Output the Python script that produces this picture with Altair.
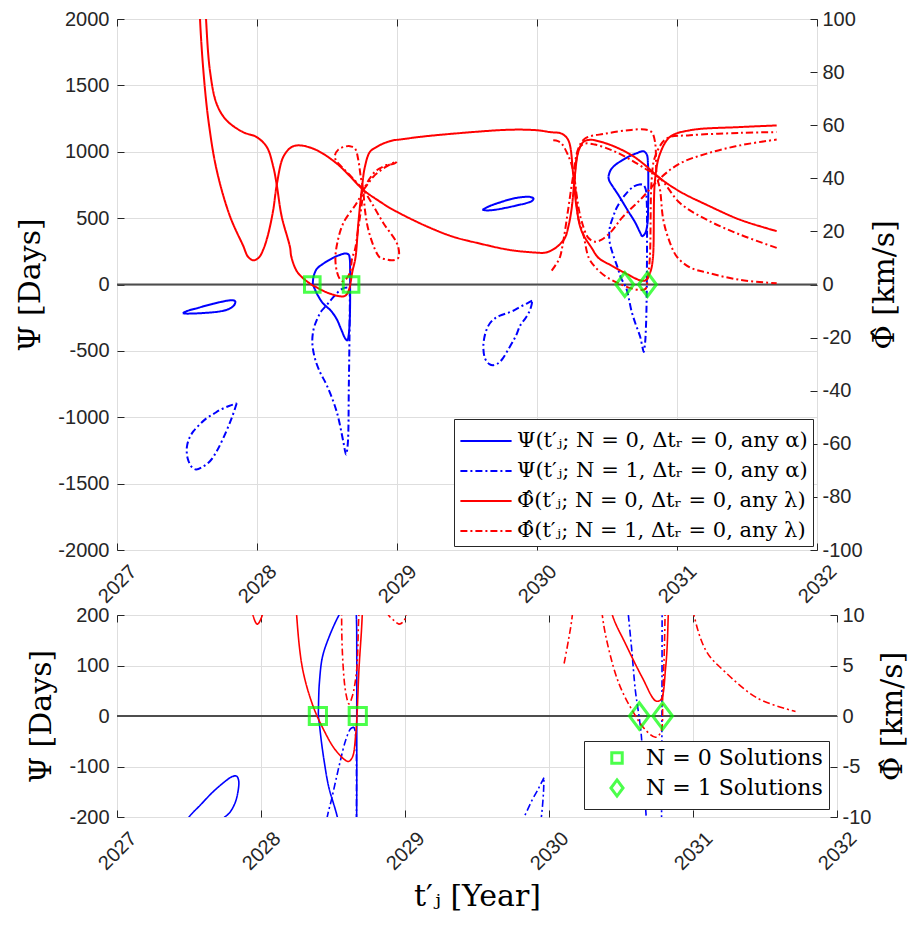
import altair as alt
import pandas as pd

# ---------------- axes / labels ----------------
YEARS = [2027, 2028, 2029, 2030, 2031, 2032]
PSI_TICKS_TOP = [-2000, -1500, -1000, -500, 0, 500, 1000, 1500, 2000]
PHI_TICKS_TOP = [-100, -80, -60, -40, -20, 0, 20, 40, 60, 80, 100]
PSI_TICKS_BOT = [-200, -100, 0, 100, 200]
PHI_TICKS_BOT = [-10, -5, 0, 5, 10]

SERIES = [
    "Ψ(t′ⱼ; N = 0, Δtᵣ = 0, any α)",
    "Ψ(t′ⱼ; N = 1, Δtᵣ = 0, any α)",
    "Φ̂(t′ⱼ; N = 0, Δtᵣ = 0, any λ)",
    "Φ̂(t′ⱼ; N = 1, Δtᵣ = 0, any λ)",
]
SOL_LABELS = ["N = 0 Solutions", "N = 1 Solutions"]

# ---------------- Ψ, N = 0 (days) ----------------
psi0_a_t = [2027.47, 2027.50, 2027.58, 2027.66, 2027.74, 2027.80, 2027.83, 2027.845, 2027.84, 2027.82,
            2027.78, 2027.72, 2027.64, 2027.56, 2027.49, 2027.47]
psi0_a_v = [-216, -200, -176, -152, -132, -120, -119, -128, -150, -172, -192, -205, -213, -218, -219, -216]

psi0_b_t = [2028.398, 2028.401, 2028.405, 2028.426, 2028.472, 2028.542, 2028.60, 2028.635, 2028.655, 2028.663,
            2028.665, 2028.665, 2028.665, 2028.662, 2028.655, 2028.645, 2028.632, 2028.60, 2028.57, 2028.53,
            2028.47, 2028.44, 2028.42, 2028.405, 2028.398]
psi0_b_v = [0, 40, 64, 116, 156, 200, 226, 234, 225, 190, 120, 0, -150, -280, -380, -421, -410, -335, -262, -200,
            -140, -92, -52, -15, 0]

psi0_c_t = [2029.61, 2029.66, 2029.74, 2029.82, 2029.89, 2029.95, 2029.975, 2029.965, 2029.93, 2029.86,
            2029.78, 2029.70, 2029.64, 2029.61]
psi0_c_v = [563, 590, 620, 645, 658, 660, 648, 630, 615, 597, 578, 563, 558, 563]

psi0_d_t = [2030.51, 2030.525, 2030.557, 2030.60, 2030.652, 2030.71, 2030.76, 2030.784, 2030.793, 2030.795,
            2030.794, 2030.788, 2030.772, 2030.752, 2030.735, 2030.70, 2030.652, 2030.581, 2030.54, 2030.515, 2030.51]
psi0_d_v = [813, 860, 899, 930, 962, 988, 1004, 980, 900, 760, 600, 450, 385, 364, 395, 470, 551, 675, 740, 785, 813]

# ---------------- Ψ, N = 1 (days) ----------------
psi1_a_t = [2027.855, 2027.819, 2027.759, 2027.71, 2027.664, 2027.61, 2027.564, 2027.53, 2027.505, 2027.498,
            2027.502, 2027.52, 2027.545, 2027.59, 2027.64, 2027.69, 2027.736, 2027.80, 2027.855]
psi1_a_v = [-895, -1007, -1157, -1260, -1331, -1375, -1393, -1370, -1310, -1256, -1206, -1150, -1107, -1055,
            -1007, -975, -945, -915, -895]

psi1_b_t = [2028.645, 2028.623, 2028.588, 2028.55, 2028.519, 2028.49, 2028.46, 2028.43, 2028.405, 2028.395,
            2028.414, 2028.45, 2028.498, 2028.569, 2028.616, 2028.636, 2028.648, 2028.656, 2028.662, 2028.663,
            2028.66, 2028.652, 2028.645]
psi1_b_v = [-22, -25, -48, -90, -128, -165, -200, -260, -334, -434, -558, -660, -758, -957, -1181, -1281,
            -1206, -758, -259, -120, -50, -28, -22]

psi1_c_t = [2029.965, 2029.93, 2029.88, 2029.826, 2029.78, 2029.736, 2029.70, 2029.665, 2029.64, 2029.622,
            2029.617, 2029.63, 2029.66, 2029.688, 2029.72, 2029.75, 2029.80, 2029.85, 2029.88, 2029.92,
            2029.947, 2029.962, 2029.965]
psi1_c_v = [-122, -142, -168, -200, -218, -234, -255, -290, -340, -410, -484, -560, -600, -608, -595, -565,
            -480, -385, -309, -250, -200, -150, -122]

psi1_d_t = [2030.74, 2030.69, 2030.62, 2030.57, 2030.545, 2030.522, 2030.516, 2030.52, 2030.545, 2030.575,
            2030.60, 2030.625, 2030.64, 2030.655, 2030.675, 2030.705, 2030.736, 2030.755, 2030.762, 2030.772,
            2030.779, 2030.783, 2030.785, 2030.786, 2030.784, 2030.776, 2030.76, 2030.74]
psi1_d_v = [755, 738, 663, 580, 514, 440, 389, 314, 220, 130, 50, 0, -35, -100, -200, -300, -390, -480, -508,
            -440, -300, -120, 100, 400, 620, 720, 750, 755]

# ---------------- Φ̂, N = 0 (km/s) ----------------
phi0_a_t = [2027.588, 2027.593, 2027.617, 2027.653, 2027.712, 2027.807, 2027.902, 2027.935, 2027.974, 2028.014,
            2028.045, 2028.08, 2028.116, 2028.141, 2028.188, 2028.248, 2028.307, 2028.426, 2028.569, 2028.66,
            2028.76, 2028.87, 2028.974, 2029.212, 2029.40, 2029.569, 2029.807, 2030.0, 2030.06, 2030.116,
            2030.16, 2030.20, 2030.225, 2030.248, 2030.271, 2030.295, 2030.331, 2030.38, 2030.414, 2030.533,
            2030.676, 2030.771, 2030.879, 2031.021, 2031.212, 2031.45, 2031.712]
phi0_a_v = [110, 100, 80.5, 61.8, 43.1, 25.7, 14.5, 10.5, 9.1, 10.2, 13.2, 19, 28.1, 37.5, 48.1, 51.8, 52.4,
            50.6, 45.6, 41, 35.6, 31.5, 28.1, 21.9, 18, 15.7, 13.0, 12, 12, 13.2, 15, 17.6, 22, 28.8, 41.2, 50,
            53.7, 54.5, 54.3, 52.4, 48.7, 45, 40, 35, 30, 24.4, 20.1]

phi0_b_t = [2027.628, 2027.636, 2027.664, 2027.712, 2027.783, 2027.90, 2027.995, 2028.07, 2028.116, 2028.141,
            2028.176, 2028.236, 2028.245, 2028.287, 2028.356, 2028.426, 2028.519, 2028.606, 2028.634, 2028.658,
            2028.681, 2028.703, 2028.724, 2028.748, 2028.771, 2028.807, 2028.855, 2028.902, 2028.974, 2029.021,
            2029.164, 2029.40, 2029.807, 2030.0, 2030.093, 2030.176, 2030.224, 2030.259, 2030.283, 2030.319,
            2030.39, 2030.44, 2030.533, 2030.648, 2030.741, 2030.776, 2030.81, 2030.828, 2030.843, 2030.879,
            2030.95, 2031.093, 2031.45, 2031.712]
phi0_b_v = [110, 100, 80.5, 68, 61.8, 57.4, 55.6, 51.8, 44.4, 37.5, 25.7, 14, 10.5, 4.8, 1.2, -1.1, -3.4, -4.5,
            -4.1, -1.8, 4.8, 10, 23.2, 35.6, 44.4, 50, 51.8, 53.1, 54.3, 54.6, 55.6, 56.8, 58.3, 58.1, 57.4, 56.8,
            54.3, 41.2, 28.8, 20.1, 13.8, 10, 7.1, 3.8, 1.5, 1.6, 4.8, 10, 39.4, 49.3, 55.6, 58.1, 59.3, 59.9]

# ---------------- Φ̂, N = 1 (km/s) ----------------
phi1_a_t = [2028.76, 2028.741, 2028.724, 2028.70, 2028.664, 2028.62, 2028.581, 2028.557, 2028.565, 2028.581,
            2028.62, 2028.664, 2028.71, 2028.76, 2028.819, 2028.902, 2028.998, 2029.015, 2029.009, 2028.986,
            2028.958, 2028.92, 2028.877, 2028.843, 2028.795, 2028.771, 2028.76]
phi1_a_v = [35.6, 40.6, 46.8, 51.2, 52.1, 51.8, 50.8, 48.7, 46.5, 45.6, 43.5, 41.2, 38.5, 35.6, 30.7, 23.2,
            15.7, 12, 10, 9.3, 9.1, 9.5, 10.2, 13.2, 20.7, 28.1, 35.6]

phi1_b_t = [2028.76, 2028.80, 2028.831, 2028.902, 2028.96, 2028.998, 2028.98, 2028.926, 2028.88, 2028.843,
            2028.80, 2028.76, 2028.712, 2028.617, 2028.575, 2028.56, 2028.57, 2028.59, 2028.611, 2028.635,
            2028.664, 2028.68, 2028.70, 2028.72, 2028.736, 2028.75, 2028.76]
phi1_b_v = [35.6, 38.5, 40.6, 43.7, 45.5, 46.3, 45.5, 45, 43.8, 42.5, 39.5, 35.6, 30.7, 23.2, 16, 10, 5, 2.2,
            1.2, 2, 4.5, 10, 13.2, 20, 25.7, 31, 35.6]

phi1_c_t = [2030.116, 2030.15, 2030.176, 2030.215, 2030.248, 2030.27, 2030.283, 2030.30, 2030.319, 2030.366,
            2030.414, 2030.462, 2030.533, 2030.605, 2030.748, 2030.879, 2031.021, 2031.212, 2031.45, 2031.712]
phi1_c_v = [54.3, 54, 53.1, 49.5, 45, 39, 33.8, 28, 23.8, 17.6, 16.1, 16.9, 20.1, 25, 32.5, 40, 45.6, 49.3,
            52.4, 54.6]

phi1_d_t = [2030.105, 2030.135, 2030.162, 2030.19, 2030.224, 2030.259, 2030.295, 2030.343, 2030.486, 2030.652,
            2030.771, 2030.819, 2030.843, 2030.855, 2030.879, 2030.902, 2030.95, 2031.0, 2031.093, 2031.22,
            2031.45, 2031.712]
phi1_d_v = [5.2, 7.5, 10, 17, 28.8, 41.2, 51.2, 55, 56.8, 58.1, 58.4, 57.4, 53.7, 41.2, 35.6, 24.4, 15.7, 10.4,
            6.4, 4.4, 1.75, 0.45]

phi1_e_t = [2031.712, 2031.45, 2031.212, 2031.021, 2030.879, 2030.771, 2030.652, 2030.533, 2030.414, 2030.343,
            2030.307, 2030.283, 2030.271, 2030.283, 2030.295, 2030.331, 2030.37, 2030.417, 2030.486, 2030.578,
            2030.671, 2030.741, 2030.776, 2030.79, 2030.806, 2030.819, 2030.843, 2030.926, 2031.093, 2031.45,
            2031.712]
phi1_e_v = [13.8, 18.8, 24.4, 30.7, 40, 43.7, 47.5, 50.6, 52.7, 53.1, 51.8, 47.5, 41.2, 31, 25, 18.8, 10,
            6.5, 3.2, 0.55, -1.4, -2.1, -1.6, 2, 10, 39.4, 48.1, 55, 56.2, 57.1, 57.4]

# ---------------- solutions ----------------
sol_t = [2028.395, 2028.672, 2030.627, 2030.789]
sol_v = [0, 0, 0, 0]
sol_n = [SOL_LABELS[0], SOL_LABELS[0], SOL_LABELS[1], SOL_LABELS[1]]

zero_t = [2027, 2032]
zero_v = [0, 0]


def rows(series, segs):
    out = []
    for k, (tt, vv) in enumerate(segs):
        for i, (a, b) in enumerate(zip(tt, vv)):
            out.append({"series": series, "seg": f"{series}|{k}", "i": i, "t": a, "v": b})
    return out


psi_df = pd.DataFrame(
    rows(SERIES[0], [(psi0_a_t, psi0_a_v), (psi0_b_t, psi0_b_v), (psi0_c_t, psi0_c_v), (psi0_d_t, psi0_d_v)])
    + rows(SERIES[1], [(psi1_a_t, psi1_a_v), (psi1_b_t, psi1_b_v), (psi1_c_t, psi1_c_v), (psi1_d_t, psi1_d_v)])
)
phi_df = pd.DataFrame(
    rows(SERIES[2], [(phi0_a_t, phi0_a_v), (phi0_b_t, phi0_b_v)])
    + rows(SERIES[3], [(phi1_a_t, phi1_a_v), (phi1_b_t, phi1_b_v), (phi1_c_t, phi1_c_v),
                       (phi1_d_t, phi1_d_v), (phi1_e_t, phi1_e_v)])
)
sol_df = pd.DataFrame({"t": sol_t, "v": sol_v, "sol": sol_n})
zero_df = pd.DataFrame({"t": zero_t, "v": zero_v})

SANS = "Liberation Sans"
SERIF = "DejaVu Serif"
INK = "#262626"
SQUARE = "M-0.65,-0.65L0.65,-0.65L0.65,0.65L-0.65,0.65Z"
DIAMOND = "M0,-1L0.75,0L0,1L-0.75,0Z"
LINE_SYM = "M-1.6,0L1.6,0"
NUM = "'' + datum.value"


def panel(psi_dom, phi_dom, psi_ticks, phi_ticks, w, h, lw, msize, line_legend, sol_legend, xtitle):
    xs = alt.Scale(domain=[2027, 2032], nice=False, zero=False)
    psi_s = alt.Scale(domain=psi_dom, nice=False, zero=False)
    phi_s = alt.Scale(domain=phi_dom, nice=False, zero=False)
    cscale = alt.Scale(domain=SERIES, range=["#0000ff", "#0000ff", "#ff0000", "#ff0000"])
    dscale = alt.Scale(domain=SERIES, range=[[1, 0], [7, 3, 2, 3], [1, 0], [7, 3, 2, 3]])
    if line_legend:
        leg = alt.Legend(title=None, orient="bottom-right", offset=4, symbolType=LINE_SYM, symbolSize=1024,
                         symbolStrokeWidth=2, symbolOffset=10, labelFont=SERIF, labelFontSize=21,
                         labelLimit=600, labelColor="black", padding=5, fillColor="white", strokeColor=INK,
                         rowPadding=3, labelOffset=14)
    else:
        leg = None

    ax_x_lab = alt.Axis(orient="bottom", values=YEARS, format="d", labelAngle=-45, labelAlign="right",
                        labelBaseline="top", labelOffset=9, labelPadding=11, ticks=False, domain=False,
                        grid=True, labelOverlap=False, labelFlush=False,
                        title=xtitle, titleFont=SERIF, titleFontSize=30, titleFontWeight="normal",
                        titlePadding=8)
    ax_x_top = alt.Axis(orient="top", values=YEARS, labels=False, ticks=True, tickSize=7, offset=-7,
                        domain=False, grid=False, title=None)
    ax_x_bot = alt.Axis(orient="bottom", values=YEARS, labels=False, ticks=True, tickSize=7, offset=-7,
                        domain=False, grid=False, title=None)
    ax_psi = alt.Axis(orient="left", values=psi_ticks, labelExpr=NUM, ticks=False, domain=False, grid=True,
                      labelPadding=8, title="Ψ [Days]", titleFont=SERIF, titleFontSize=30,
                      titleFontWeight="normal", titlePadding=12)
    ax_psi_t = alt.Axis(orient="left", values=psi_ticks, labels=False, ticks=True, tickSize=7, offset=-7,
                        domain=False, grid=False, title=None)
    ax_phi = alt.Axis(orient="right", values=phi_ticks, labelExpr=NUM, ticks=False, domain=False, grid=False,
                      labelPadding=5, title="Φ̂ [km/s]", titleFont=SERIF, titleFontSize=30,
                      titleFontWeight="normal", titleAngle=270, titleBaseline="top", titlePadding=7)
    ax_phi_t = alt.Axis(orient="right", values=phi_ticks, labels=False, ticks=True, tickSize=7, offset=-7,
                        domain=False, grid=False, title=None)

    blue = alt.Chart(psi_df).mark_line(clip=True, strokeWidth=lw, interpolate="catmull-rom").encode(
        x=alt.X("t:Q", scale=xs, axis=ax_x_lab),
        y=alt.Y("v:Q", scale=psi_s, axis=ax_psi),
        color=alt.Color("series:N", scale=cscale, legend=leg),
        strokeDash=alt.StrokeDash("series:N", scale=dscale, legend=leg),
        detail="seg:N",
        order="i:Q",
    )
    red = alt.Chart(phi_df).mark_line(clip=True, strokeWidth=lw, interpolate="catmull-rom").encode(
        x=alt.X("t:Q", scale=xs, axis=ax_x_top),
        y=alt.Y("v:Q", scale=phi_s, axis=ax_phi),
        color=alt.Color("series:N", scale=cscale, legend=leg),
        strokeDash=alt.StrokeDash("series:N", scale=dscale, legend=leg),
        detail="seg:N",
        order="i:Q",
    )
    zero = alt.Chart(zero_df).mark_line(clip=True, color="#4d4d4d", strokeWidth=2).encode(
        x=alt.X("t:Q", scale=xs, axis=ax_x_bot),
        y=alt.Y("v:Q", scale=psi_s, axis=ax_psi_t),
    )
    if sol_legend:
        sleg = alt.Legend(title=None, orient="bottom-right", offset=8, symbolStrokeColor="#00ff00",
                          symbolStrokeWidth=3, symbolSize=260, symbolFillColor="transparent",
                          symbolOffset=16, labelFont=SERIF, labelFontSize=22, labelLimit=400,
                          labelColor="black", padding=6, fillColor="white", strokeColor=INK,
                          rowPadding=3, labelOffset=18)
    else:
        sleg = None
    marks = alt.Chart(sol_df).mark_point(filled=False, stroke="#00ff00", strokeWidth=3, size=msize,
                                         clip=True).encode(
        x=alt.X("t:Q", scale=xs, axis=None),
        y=alt.Y("v:Q", scale=phi_s, axis=ax_phi_t),
        shape=alt.Shape("sol:N", scale=alt.Scale(domain=SOL_LABELS, range=[SQUARE, DIAMOND]), legend=sleg),
    )
    return (
        alt.layer(zero, blue, red, marks)
        .resolve_scale(y="independent")
        .resolve_axis(x="independent", y="independent")
        .properties(width=w, height=h)
    )


top = panel([-2000, 2000], [-100, 100], PSI_TICKS_TOP, PHI_TICKS_TOP, 700, 531, 2.0, 576, True, False, None)
bottom = panel([-200, 200], [-10, 10], PSI_TICKS_BOT, PHI_TICKS_BOT, 720, 202, 1.6, 700, False, True,
               "t′ⱼ [Year]")

chart = (
    alt.vconcat(top, bottom, spacing=-4)
    .resolve_scale(color="independent", strokeDash="independent", shape="independent")
    .resolve_legend(color="independent", strokeDash="independent", shape="independent")
    .properties(padding={"left": 7, "top": 0, "right": 0, "bottom": 0}, background="white")
    .configure_view(stroke=INK, strokeWidth=1)
    .configure_axis(labelFont=SANS, labelFontSize=20, labelColor=INK, tickColor=INK, tickWidth=1,
                    gridColor="#dedede", gridWidth=1, titleColor="black")
)

chart.save("out.html", embed_options={"renderer": "svg", "actions": False})
